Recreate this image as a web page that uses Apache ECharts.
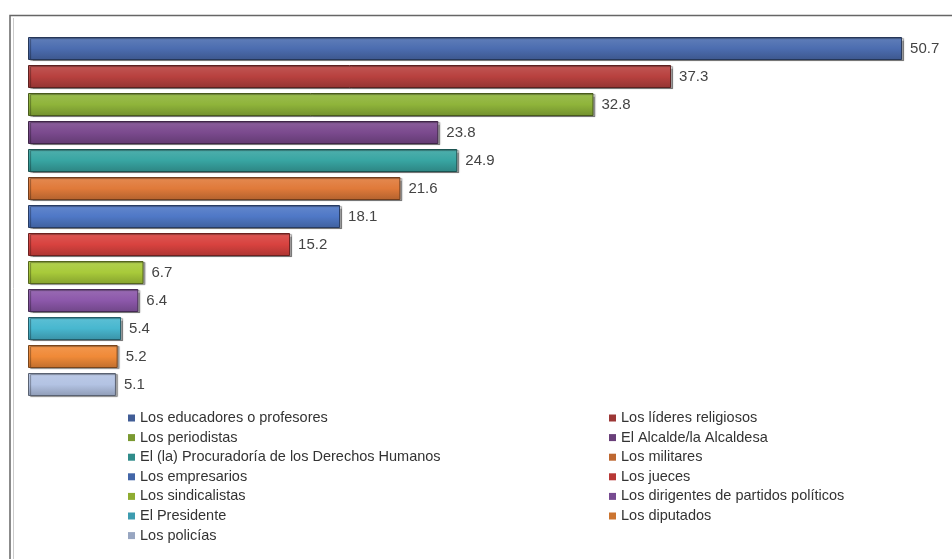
<!DOCTYPE html>
<html>
<head>
<meta charset="utf-8">
<script src="https://cdn.jsdelivr.net/npm/echarts@6/dist/echarts.min.js"></script>
<style>html,body{margin:0;padding:0;background:#fff}#c{width:952px;height:559px}</style>
</head>
<body>
<div id="c"></div>
<script>
const categories = [
  'Los educadores o profesores',
  'Los líderes religiosos',
  'Los periodistas',
  'El Alcalde/la Alcaldesa',
  'El (la) Procuradoría de los Derechos Humanos',
  'Los militares',
  'Los empresarios',
  'Los jueces',
  'Los sindicalistas',
  'Los dirigentes de partidos políticos',
  'El Presidente',
  'Los diputados',
  'Los policías'
];
const values = [50.7, 37.3, 32.8, 23.8, 24.9, 21.6, 18.1, 15.2, 6.7, 6.4, 5.4, 5.2, 5.1];
const colors = ['#4c6db0', '#b8413f', '#8fb43a', '#7b4a8e', '#38a5a2', '#e07a3a',
                '#4f78c6', '#d8423f', '#a8ca3a', '#8c58aa', '#48b7cf', '#f08a38', '#b3c3e3'];
const legendLeft = [0, 2, 4, 6, 8, 10, 12];
const legendRight = [1, 3, 5, 7, 9, 11];

function shade(hex, f) {
  const n = parseInt(hex.slice(1), 16);
  let r = (n >> 16) & 255, g = (n >> 8) & 255, b = n & 255;
  if (f >= 0) { r += (255 - r) * f; g += (255 - g) * f; b += (255 - b) * f; }
  else { r *= (1 + f); g *= (1 + f); b *= (1 + f); }
  return 'rgb(' + Math.round(r) + ',' + Math.round(g) + ',' + Math.round(b) + ')';
}

const series = categories.map((name, i) => ({
  name: name,
  type: 'bar',
  stack: 'all',
  barWidth: 23,
  data: categories.map((c, j) => j === i ? values[i] : '-'),
  itemStyle: {
    color: new echarts.graphic.LinearGradient(0, 0, 0, 1, [
      { offset: 0, color: shade(colors[i], 0.12) },
      { offset: 0.5, color: colors[i] },
      { offset: 1, color: shade(colors[i], -0.2) }
    ]),
    borderColor: shade(colors[i], -0.5),
    borderWidth: 1,
    shadowColor: 'rgba(0,0,0,0.35)',
    shadowOffsetX: 2,
    shadowOffsetY: 1,
    shadowBlur: 1
  },
  label: {
    show: true,
    position: 'right',
    distance: 8,
    color: '#444',
    fontFamily: 'Liberation Sans, Arial, sans-serif',
    fontSize: 15,
    formatter: p => p.value.toFixed(1)
  }
}));

function legendData(idx) {
  return idx.map(i => ({
    name: categories[i],
    itemStyle: { color: shade(colors[i], -0.15), borderWidth: 0, shadowBlur: 0, shadowOffsetX: 0, shadowOffsetY: 0 }
  }));
}
const legendCommon = {
  orient: 'vertical',
  top: 410.5,
  padding: 0,
  itemWidth: 7,
  itemHeight: 7,
  itemGap: 4.6,
  icon: 'rect',
  selectedMode: false,
  itemStyle: { borderWidth: 0 },
  textStyle: { fontFamily: 'Liberation Sans, Arial, sans-serif', fontSize: 14.5, color: '#333', height: 15, lineHeight: 15 }
};

const chart = echarts.init(document.getElementById('c'), null, { renderer: 'canvas' });
chart.setOption({
  backgroundColor: '#ffffff',
  animation: false,
  grid: { left: 28, right: 27.5, top: 34.5, height: 364, containLabel: false },
  xAxis: { type: 'value', min: 0, max: 52, show: false },
  yAxis: { type: 'category', data: categories, inverse: true, show: false },
  legend: [
    Object.assign({}, legendCommon, { left: 128, data: legendData(legendLeft) }),
    Object.assign({}, legendCommon, { left: 609, data: legendData(legendRight) })
  ],
  graphic: [
    { type: 'polyline', shape: { points: [[10, 559], [10, 15.5], [952, 15.5]] }, style: { stroke: '#666', lineWidth: 1.5, fill: null } },
    { type: 'line', shape: { x1: 13.5, y1: 18, x2: 13.5, y2: 559 }, style: { stroke: '#ccc', lineWidth: 1 } }
  ],
  series: series
});
</script>
</body>
</html>
